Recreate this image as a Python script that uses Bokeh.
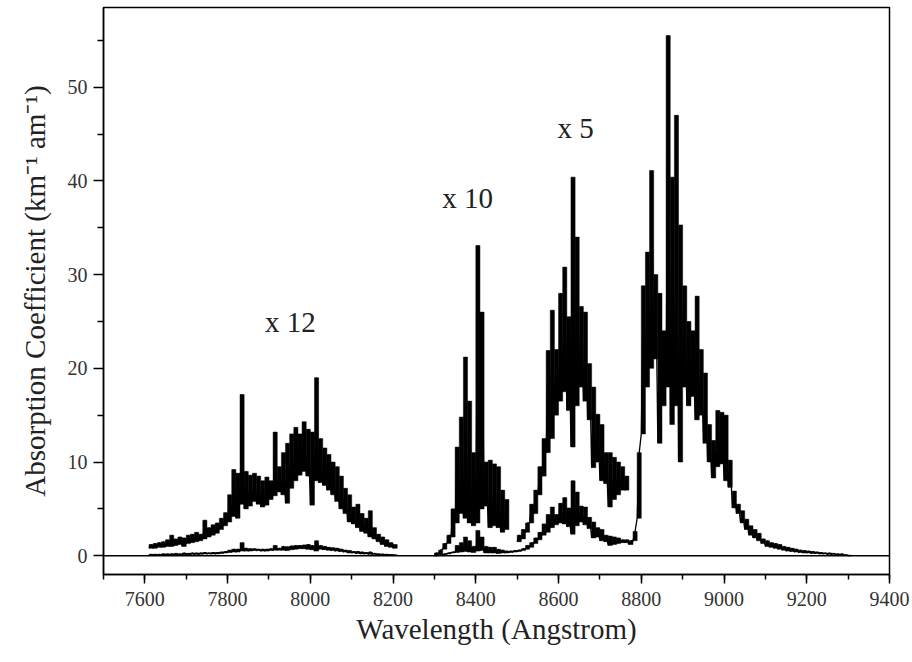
import numpy as np
from bokeh.plotting import figure
from bokeh.models import Span, Label, Range1d, FixedTicker
from bokeh.embed import file_html
from bokeh.resources import INLINE

# ---- data (absorption coefficient, km^-1 am^-1), 10 Angstrom bins: low / high envelope ----
# band near 7900 A, scaled x12
wl_a = np.arange(7610, 8201, 10)
a12_hi = [1.2, 1.3, 1.4, 1.5, 1.7, 2.2, 1.8, 2.0, 1.9, 2.2,
          2.3, 2.5, 2.3, 3.8, 3.0, 3.3, 3.5, 4.0, 4.6, 6.5,
          9.2, 8.8, 17.2, 9.0, 8.6, 8.8, 8.5, 8.0, 8.4, 8.0,
          13.2, 9.5, 11.0, 12.0, 13.0, 13.7, 13.0, 14.3, 13.5, 13.2,
          19.0, 12.5, 11.5, 10.8, 10.0, 9.5, 8.5, 7.2, 6.5, 5.2,
          5.5, 4.5, 4.0, 4.8, 3.0, 2.3, 2.0, 1.7, 1.4, 1.2]
a12_lo = [0.8, 0.8, 0.9, 0.9, 1.0, 1.0, 1.1, 1.2, 1.0, 1.3,
          1.4, 1.5, 1.6, 1.8, 2.0, 2.2, 2.4, 2.8, 3.2, 3.6,
          4.2, 4.0, 5.5, 5.0, 5.3, 5.8, 5.5, 5.2, 5.4, 6.0,
          6.4, 6.8, 6.5, 5.6, 7.2, 8.0, 8.6, 9.0, 8.5, 5.4,
          8.0, 7.8, 7.5, 7.0, 6.5, 5.8, 5.0, 4.5, 3.6, 3.4,
          3.0, 2.6, 2.4, 2.0, 1.8, 1.5, 1.2, 1.0, 0.9, 0.8]
# same band, unscaled
a1_hi = [0.15, 0.15, 0.15, 0.2, 0.2, 0.2, 0.25, 0.2, 0.3, 0.25,
         0.3, 0.3, 0.3, 0.35, 0.3, 0.35, 0.35, 0.4, 0.45, 0.6,
         0.7, 0.7, 1.4, 0.8, 0.75, 0.75, 0.7, 0.7, 0.7, 0.75,
         1.1, 0.8, 1.0, 0.95, 1.05, 1.1, 1.1, 1.15, 1.2, 1.1,
         1.6, 1.1, 1.0, 0.9, 0.85, 0.8, 0.7, 0.6, 0.55, 0.45,
         0.45, 0.4, 0.35, 0.4, 0.25, 0.2, 0.18, 0.15, 0.12, 0.1]
a1_lo = [0.05, 0.05, 0.05, 0.08, 0.1, 0.1, 0.1, 0.1, 0.1, 0.1,
         0.15, 0.15, 0.15, 0.2, 0.2, 0.2, 0.2, 0.25, 0.3, 0.35,
         0.4, 0.4, 0.5, 0.5, 0.5, 0.55, 0.55, 0.5, 0.5, 0.55,
         0.6, 0.6, 0.6, 0.55, 0.65, 0.7, 0.75, 0.75, 0.7, 0.65,
         0.5, 0.7, 0.65, 0.6, 0.55, 0.5, 0.45, 0.4, 0.3, 0.3,
         0.25, 0.2, 0.2, 0.15, 0.15, 0.12, 0.1, 0.08, 0.07, 0.05]

# band near 8400 A, scaled x10
wl_b = np.arange(8300, 8471, 10)
b10_hi = [0.3, 0.6, 1.3, 2.2, 5.0, 11.6, 14.8, 21.2, 16.5, 11.0,
          33.1, 26.0, 10.0, 10.2, 9.8, 9.5, 7.0, 6.0]
b10_lo = [0.0, 0.2, 0.7, 1.3, 2.0, 3.5, 4.5, 4.0, 3.5, 3.2,
          3.5, 5.0, 5.3, 3.0, 3.2, 3.0, 2.5, 2.8]

# band near 8620 A, scaled x5
wl_c = np.arange(8500, 8761, 10)
c5_hi = [2.2, 2.8, 3.5, 5.5, 7.0, 9.5, 12.5, 21.9, 26.2, 22.0,
         28.0, 30.8, 25.5, 40.4, 34.0, 26.6, 26.0, 20.5, 18.0, 15.1,
         14.0, 11.0, 11.0, 10.5, 10.0, 9.5, 8.5]
c5_lo = [1.5, 1.8, 2.5, 3.5, 4.5, 6.5, 8.5, 11.0, 12.5, 15.0,
         16.5, 17.5, 15.5, 11.6, 16.0, 18.0, 16.5, 14.5, 9.4, 10.0,
         8.0, 7.7, 5.2, 6.0, 6.5, 7.0, 7.0]

# unscaled spectrum 8300-8760 A
wl_bc = np.arange(8300, 8761, 10)
bc1_hi = [0.05, 0.1, 0.2, 0.3, 0.4, 1.1, 1.4, 2.0, 1.6, 1.0,
          2.7, 2.0, 1.0, 0.9, 0.9, 0.7, 0.6, 0.5, 0.5, 0.55,
          0.6, 0.75, 1.1, 1.4, 1.9, 2.5, 3.4, 4.4, 5.2, 4.4,
          5.6, 6.2, 5.1, 8.0, 6.8, 5.3, 5.2, 4.1, 3.6, 3.0,
          2.8, 2.2, 2.1, 2.0, 1.9, 1.7, 1.7]
bc1_lo = [0.0, 0.05, 0.1, 0.2, 0.3, 0.35, 0.4, 0.45, 0.4, 0.35,
          0.5, 0.55, 0.3, 0.3, 0.3, 0.25, 0.3, 0.3, 0.35, 0.4,
          0.45, 0.55, 0.7, 0.9, 1.3, 1.7, 2.2, 2.5, 3.0, 3.3,
          3.5, 3.4, 3.1, 2.3, 3.2, 3.6, 3.3, 2.9, 1.9, 2.0,
          1.6, 1.5, 1.1, 1.2, 1.3, 1.4, 1.4]

# band near 8870 A, unscaled
wl_d = np.arange(8770, 9301, 10)
d_hi = [1.6, 2.6, 11.0, 28.8, 32.4, 41.1, 30.0, 28.0, 24.0, 55.5,
        40.4, 47.0, 35.3, 28.8, 25.0, 24.0, 27.7, 22.0, 19.5, 14.0,
        12.3, 15.5, 15.3, 15.0, 10.2, 6.9, 5.5, 4.8, 3.9, 3.2,
        2.8, 2.4, 1.8, 1.6, 1.4, 1.3, 1.2, 1.0, 0.9, 0.8,
        0.7, 0.6, 0.55, 0.5, 0.45, 0.4, 0.35, 0.3, 0.3, 0.25,
        0.2, 0.2, 0.1, 0.05]
d_lo = [1.2, 1.6, 4.0, 13.0, 18.0, 20.0, 21.0, 12.0, 16.0, 18.0,
        14.0, 16.0, 10.0, 18.0, 16.0, 17.0, 14.5, 15.0, 12.0, 10.0,
        8.3, 9.5, 9.8, 8.0, 7.3, 5.1, 4.5, 3.5, 2.8, 2.2,
        1.9, 1.6, 1.3, 1.0, 0.9, 0.8, 0.7, 0.6, 0.5, 0.45,
        0.4, 0.35, 0.3, 0.3, 0.25, 0.25, 0.2, 0.2, 0.15, 0.15,
        0.1, 0.1, 0.05, 0.0]

annotations = [("x 12", 7952, 24.9), ("x 10", 8380, 38.2), ("x 5", 8641, 45.6)]

x_major = list(range(7600, 9401, 200))
x_minor = list(range(7500, 9401, 100))
y_major = [0, 10, 20, 30, 40, 50]
y_minor = [5, 15, 25, 35, 45, 55]


def zig(wl, lo, hi):
    xs, ys = [], []
    for w, l, h in zip(wl, lo, hi):
        xs += [float(w), float(w) + 5.0]
        ys += [l, h]
    return xs, ys


SERIF = "Liberation Serif"
TXT = "#222222"

p = figure(width=912, height=662, output_backend="svg", toolbar_location=None,
           x_range=Range1d(7500, 9400), y_range=Range1d(-2, 58.5),
           min_border_left=103, min_border_right=23, min_border_top=7,
           min_border_bottom=88)
p.outline_line_color = "black"
p.outline_line_width = 1.5
p.xgrid.visible = False
p.ygrid.visible = False
p.background_fill_color = "white"
p.border_fill_color = "white"

p.add_layout(Span(location=0, dimension="width", line_color="black", line_width=1.5))

bands = [(wl_a, a12_lo, a12_hi), (wl_a, a1_lo, a1_hi),
         (wl_b, b10_lo, b10_hi), (wl_c, c5_lo, c5_hi),
         (wl_bc, bc1_lo, bc1_hi), (wl_d, d_lo, d_hi)]

# dense (unresolved) line structure in each 10 A bin: filled from low to high
for wl, lo, hi in bands:
    p.vbar(x=np.asarray(wl, dtype=float) + 5.0, bottom=lo, top=hi, width=10,
           fill_color="black", line_color="black", line_width=0.5)

for wl, lo, hi in bands[:4]:
    xs, ys = zig(wl, lo, hi)
    p.line(xs, ys, line_color="black", line_width=1.3)

xs1, ys1 = zig(wl_bc, bc1_lo, bc1_hi)
xs2, ys2 = zig(wl_d, d_lo, d_hi)
p.line(xs1 + xs2, ys1 + ys2, line_color="black", line_width=1.3)

for txt, x, y in annotations:
    p.add_layout(Label(x=x, y=y, text=txt, text_align="center", text_baseline="middle",
                       text_font=SERIF, text_font_size="29px", text_color=TXT))

p.xaxis.ticker = FixedTicker(ticks=x_major, minor_ticks=x_minor)
p.yaxis.ticker = FixedTicker(ticks=y_major, minor_ticks=y_minor)
p.xaxis.axis_label = "Wavelength (Angstrom)"
p.yaxis.axis_label = "Absorption Coefficient (km\u207b\u00b9 am\u207b\u00b9)"

for ax in (p.xaxis[0], p.yaxis[0]):
    ax.axis_line_width = 1.5
    ax.axis_line_color = "black"
    ax.major_tick_line_width = 1.5
    ax.minor_tick_line_width = 1.5
    ax.major_tick_line_color = "black"
    ax.minor_tick_line_color = "black"
    ax.major_tick_in = 0
    ax.minor_tick_in = 0
    ax.major_label_text_font = SERIF
    ax.major_label_text_font_size = "20px"
    ax.major_label_text_color = "#333333"
    ax.axis_label_text_font = SERIF
    ax.axis_label_text_font_size = "29px"
    ax.axis_label_text_font_style = "normal"
    ax.axis_label_text_color = TXT

p.xaxis.major_tick_out = 9
p.xaxis.minor_tick_out = 5
p.yaxis.major_tick_out = 10
p.yaxis.minor_tick_out = 6
p.xaxis.major_label_standoff = 8
p.yaxis.major_label_standoff = 6
p.xaxis.axis_label_standoff = 4
p.yaxis.axis_label_standoff = 14

open("out.html", "w").write(file_html(p, INLINE))
